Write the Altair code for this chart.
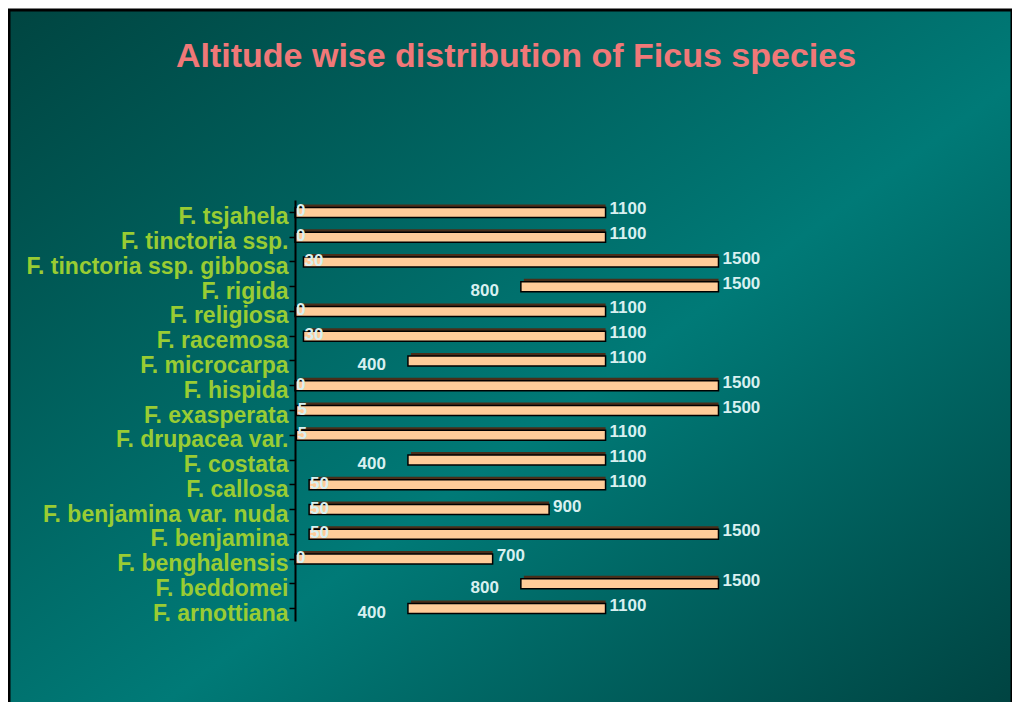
import altair as alt
import pandas as pd

species = ["F. tsjahela", "F. tinctoria ssp.", "F. tinctoria ssp. gibbosa", "F. rigida",
           "F. religiosa", "F. racemosa", "F. microcarpa", "F. hispida", "F. exasperata",
           "F. drupacea var.", "F. costata", "F. callosa", "F. benjamina var. nuda",
           "F. benjamina", "F. benghalensis", "F. beddomei", "F. arnottiana"]
min_alt = [0, 0, 30, 800, 0, 30, 400, 0, 5, 5, 400, 50, 50, 50, 0, 800, 400]
max_alt = [1100, 1100, 1500, 1500, 1100, 1100, 1100, 1500, 1500, 1100, 1100, 1100, 900, 1500, 700, 1500, 1100]

title_text = "Altitude wise distribution of Ficus species"

df = pd.DataFrame({"species": species, "low": min_alt, "high": max_alt})

W, H = 655, 421
PL, PT, PR, PB = 287, 192, 62, 81

xs = alt.Scale(domain=[0, 2320], nice=False, zero=False)
ys = alt.Scale(domain=species, paddingInner=0, paddingOuter=0)

grad = alt.LinearGradient(
    gradient="linear",
    stops=[
        alt.GradientStop(color="#004541", offset=0),
        alt.GradientStop(color="#007A77", offset=0.55),
        alt.GradientStop(color="#00403E", offset=1),
    ],
    x1=0, y1=0, x2=1, y2=1,
)

one = pd.DataFrame({"a": [0]})

bg = alt.Chart(one).mark_rect(
    fill=grad, stroke="black", strokeWidth=3
).encode(
    x=alt.value(-PL + 1), x2=alt.value(W + PR),
    y=alt.value(-PT + 2), y2=alt.value(H + PB + 40),
)

title = alt.Chart(one).mark_text(
    text=title_text, font="Liberation Sans", fontSize=34, fontWeight="bold",
    color="#F07878", align="center", baseline="alphabetic"
).encode(x=alt.value(508 - PL), y=alt.value(59 - PT))

yenc = alt.Y("species:N", scale=ys, sort=species,
             axis=alt.Axis(title=None, labelFont="Liberation Sans", labelFontSize=23,
                           labelFontWeight="bold", labelColor="#99CC33",
                           domainColor="black", domainWidth=2, tickColor="black",
                           tickSize=6, tickWidth=1.5, labelPadding=1, labelOffset=5,
                           labelLimit=400, zindex=1))

base = alt.Chart(df)

shadow = base.mark_bar(color="#4A2E1A", size=10, xOffset=3, yOffset=-3).encode(
    x=alt.X("low:Q", scale=xs, axis=None), x2="high:Q", y=yenc)

bars = base.mark_bar(fill="#FFCC99", stroke="black", strokeWidth=1.5, size=10).encode(
    x=alt.X("low:Q", scale=xs, axis=None), x2="high:Q", y=yenc)

tstyle = dict(font="Liberation Sans", fontSize=17, fontWeight="bold", color="#D8F0F0")

low_small = base.transform_filter("datum.low < 100").mark_text(
    align="left", dx=1, dy=-1, baseline="middle", **tstyle).encode(
    x=alt.X("low:Q", scale=xs, axis=None), y=yenc, text="low:Q")

low_big = base.transform_filter("datum.low >= 100").mark_text(
    align="right", dx=-22, dy=4, baseline="middle", **tstyle).encode(
    x=alt.X("low:Q", scale=xs, axis=None), y=yenc, text="low:Q")

high_lab = base.mark_text(align="left", dx=4, dy=-3, baseline="middle", **tstyle).encode(
    x=alt.X("high:Q", scale=xs, axis=None), y=yenc, text="high:Q")

chart = alt.layer(bg, title, shadow, bars, low_small, low_big, high_lab).properties(
    width=W, height=H,
    autosize=alt.AutoSizeParams(type="none"),
    padding={"left": PL, "top": PT, "right": PR, "bottom": PB},
).configure_view(stroke=None).configure_axis(grid=False)

chart.save("out.html", embed_options={"renderer": "svg", "actions": False})
